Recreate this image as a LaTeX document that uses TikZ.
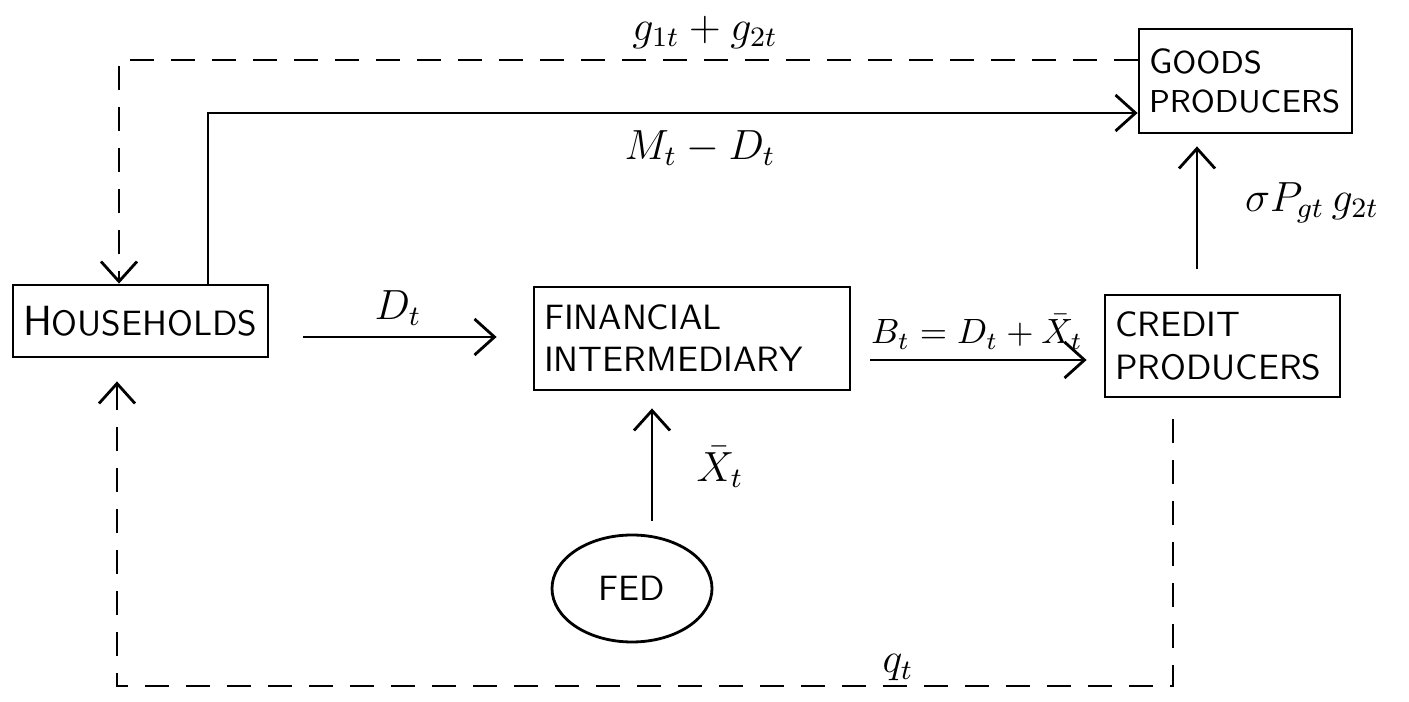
\documentclass[tikz,border=0pt]{standalone}
\usepackage{amsmath}
\usepackage{tikz}
\usetikzlibrary{arrows.meta,positioning,calc,shapes.geometric}

\begin{document}
\begin{tikzpicture}[
    >={Straight Barb[length=2mm,width=3.6mm]},
    sector/.style={draw, line width=0.8pt, font=\sffamily, align=left, inner xsep=1mm, inner ysep=0pt},
    fedbox/.style={draw, ellipse, line width=0.8pt, minimum width=1.6cm, minimum height=1.07cm, inner sep=0pt, font=\sffamily},
    flow/.style={->, line width=0.8pt},
    leak/.style={->, line width=0.8pt, dash pattern=on 2.4mm off 1.7mm},
    lbl/.style={font=\large, inner sep=1pt}
]
\useasboundingbox (0,0) rectangle (14.09,7.02);

\node[sector, text width=2.35cm, minimum height=0.72cm] (house) at (1.405,3.81) {{\large H}OUSEHOLDS};
\node[sector, text width=2.96cm, minimum height=1.03cm] (fin) at (6.92,3.635) {FINANCIAL\\INTERMEDIARY};
\node[sector, text width=2.15cm, minimum height=1.02cm] (credit) at (12.225,3.56) {CREDIT\\PRODUCERS};
\node[sector, text width=1.93cm, minimum height=1.04cm, font=\sffamily\small] (goods) at (12.455,6.21) {{\normalsize G}OODS\\PRODUCERS};
\node[fedbox] (fed) at (6.32,1.135) {FED};

\coordinate (qbase) at (0,0.16);

% flows of money
\draw[flow] ([xshift=6.75mm]house.north) |- ([yshift=-3.2mm]goods.west);
\draw[flow, shorten <=3.4mm, shorten >=3.6mm] ([yshift=-1.6mm]house.east) -- ([yshift=-1.6mm]house.east -| fin.west);
\draw[flow, shorten <=1.9mm, shorten >=1.7mm] ([yshift=-2.15mm]fin.east) -- ([yshift=-2.15mm]fin.east -| credit.west);
\draw[flow, shorten <=1.3mm, shorten >=1.7mm] ([xshift=2mm]fed.north) -- ([xshift=2mm]fed.north |- fin.south);
\draw[flow, shorten <=2.5mm, shorten >=1.2mm] ([xshift=-2.55mm]credit.north) -- ([xshift=-2.55mm]credit.north |- goods.south);

% flows of goods
\draw[leak] ([yshift=2.1mm]goods.west) -| ([xshift=-2.15mm]house.north);
\draw[leak, shorten <=2.1mm, shorten >=2.3mm] ([xshift=-4.95mm]credit.south) -- ([xshift=-4.95mm]credit.south |- qbase) -| ([xshift=-2.35mm]house.south);

\node[lbl] (ggl) at (7.05,6.70) {$g_{1t}+g_{2t}$};
\node[lbl] (mdl) at (7.00,5.54) {$M_t - D_t$};
\node[lbl] (sgl) at (13.12,4.99) {$\sigma P_{gt}\,g_{2t}$};
\node[lbl] (dl) at (3.98,3.94) {$D_t$};
\node[lbl, font=\normalsize] (bl) at (9.77,3.70) {$B_t = D_t + \bar{X}_t$};
\node[lbl] (xl) at (7.2,2.35) {$\bar{X}_t$};
\node[lbl] (ql) at (8.98,0.34) {$q_t$};
\end{tikzpicture}
\end{document}
